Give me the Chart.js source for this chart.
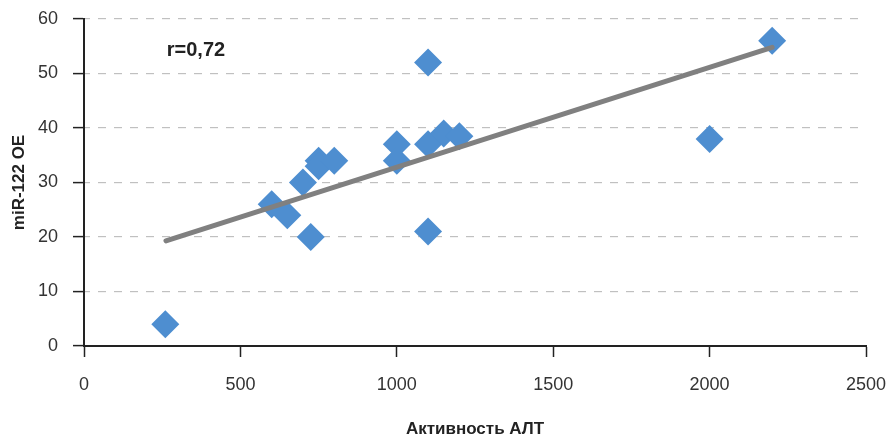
<!DOCTYPE html>
<html>
<head>
<meta charset="utf-8">
<script src="https://cdn.jsdelivr.net/npm/chart.js@4/dist/chart.umd.min.js"></script>
<style>
html,body{margin:0;padding:0;background:#fff;}
#wrap{width:893px;height:440px;}
</style>
</head>
<body>
<div id="wrap"><canvas id="c" width="893" height="440"></canvas></div>
<script>
const altActivity = [260, 600, 650, 700, 725, 750, 750, 800, 1000, 1000, 1100, 1100, 1100, 1150, 1200, 2000, 2200];
const mir122 = [4, 26, 24, 30, 20, 34, 33, 34, 37, 34, 52, 37, 21, 39, 38.5, 38, 56];
const trendX = [262, 2200];
const trendY = [19.3, 54.8];
const xTicks = [0, 500, 1000, 1500, 2000, 2500];
const yTicks = [0, 10, 20, 30, 40, 50, 60];
const xTitle = 'Активность АЛТ';
const yTitle = 'miR-122 OE';
const rLabel = 'r=0,72';
const rPos = [358, 54.3];

const FONT = '"Liberation Sans", Arial, sans-serif';

const points = altActivity.map((x, i) => ({x: x, y: mir122[i]}));
const trend = trendX.map((x, i) => ({x: x, y: trendY[i]}));

const rPlugin = {
  id: 'rLabel',
  afterDatasetsDraw(chart) {
    const ctx = chart.ctx;
    const xs = chart.scales.x, ys = chart.scales.y;
    ctx.save();
    ctx.font = 'bold 20px ' + FONT;
    ctx.fillStyle = '#222';
    ctx.textAlign = 'center';
    ctx.textBaseline = 'middle';
    ctx.fillText(rLabel, xs.getPixelForValue(rPos[0]), ys.getPixelForValue(rPos[1]));
    ctx.restore();
  }
};

new Chart(document.getElementById('c'), {
  type: 'scatter',
  data: {
    datasets: [
      {
        type: 'line',
        data: trend,
        showLine: true,
        borderColor: '#808080',
        borderWidth: 5,
        borderCapStyle: 'round',
        pointRadius: 0,
        pointHoverRadius: 0,
        fill: false
      },
      {
        data: points,
        pointStyle: 'rectRot',
        pointRadius: 14,
        pointHoverRadius: 14,
        backgroundColor: '#4E8ED0',
        borderColor: '#4E8ED0',
        borderWidth: 0
      }
    ]
  },
  options: {
    responsive: false,
    animation: false,
    events: [],
    layout: {padding: {top: 19, right: 27, left: 0, bottom: 0}},
    plugins: {legend: {display: false}, tooltip: {enabled: false}},
    scales: {
      x: {
        type: 'linear',
        min: 0, max: 2500,
        afterBuildTicks: s => { s.ticks = xTicks.map(v => ({value: v})); },
        afterFit: s => { s.height = 94; s.paddingLeft = 0; s.paddingRight = 0; },
        grid: {drawOnChartArea: false, drawTicks: true, tickLength: 11, tickColor: '#222', tickWidth: 1.5},
        border: {display: true, color: '#222', width: 2},
        ticks: {padding: 17, color: '#333', font: {family: FONT, size: 18}, maxRotation: 0, callback: v => String(v)},
        title: {display: true, text: xTitle, color: '#222', font: {family: FONT, size: 17, weight: 'bold'}, padding: {top: 0, bottom: 0}}
      },
      y: {
        type: 'linear',
        min: 0, max: 60,
        afterBuildTicks: s => { s.ticks = yTicks.map(v => ({value: v})); },
        afterFit: s => { s.width = 84; s.paddingTop = 0; s.paddingBottom = 0; },
        grid: {color: '#C0C0C0', lineWidth: 1.2, drawTicks: true, tickLength: 11, tickColor: '#222', tickWidth: 1.5},
        border: {display: true, color: '#222', width: 2, dash: [8, 8], dashOffset: 3},
        ticks: {padding: 15, color: '#333', font: {family: FONT, size: 18}, callback: v => String(v)},
        title: {display: true, text: yTitle, color: '#222', font: {family: FONT, size: 17, weight: 'bold'}, padding: {top: 9, bottom: 0}}
      }
    }
  },
  plugins: [rPlugin]
});
</script>
</body>
</html>
